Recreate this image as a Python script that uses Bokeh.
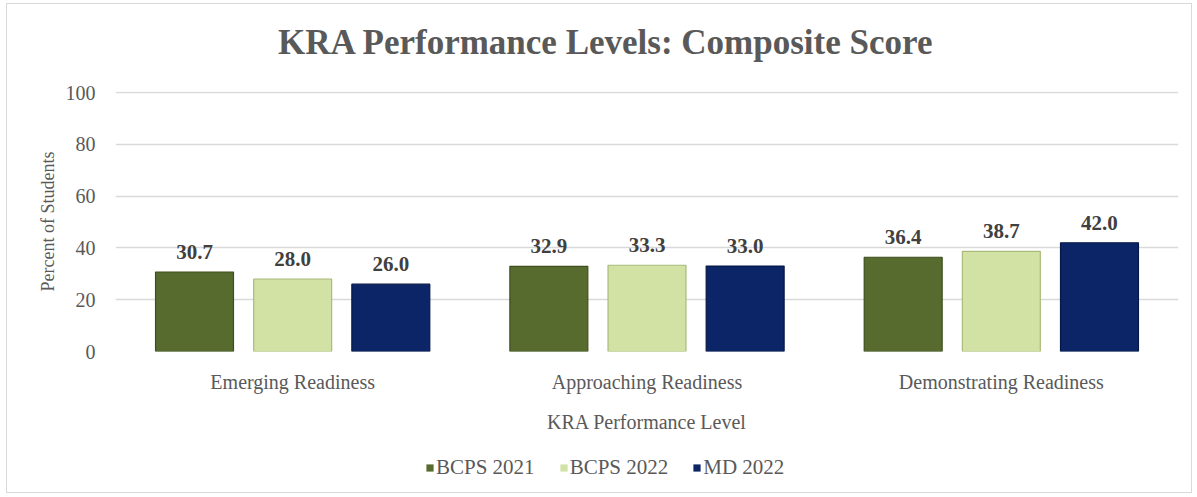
from bokeh.plotting import figure
from bokeh.layouts import column
from bokeh.models import (ColumnDataSource, FactorRange, Legend, LegendItem,
                          Range1d, FixedTicker)
from bokeh.transform import dodge
from bokeh.core.properties import value
from bokeh.embed import file_html
from bokeh.resources import INLINE

title_text = "KRA Performance Levels:  Composite Score"
categories = ["Emerging Readiness", "Approaching Readiness", "Demonstrating Readiness"]
series_names = ["BCPS 2021", "BCPS 2022", "MD 2022"]
bcps_2021 = [30.7, 32.9, 36.4]
bcps_2022 = [28.0, 33.3, 38.7]
md_2022 = [26.0, 33.0, 42.0]
y_ticks = [0, 20, 40, 60, 80, 100]

colors = ["#566b2d", "#d2e1a4", "#0b2566"]
edge_colors = ["#3e4e1f", "#a9ba7a", "#061845"]
offsets = [-0.277, 0.0, 0.277]
serif = "Liberation Serif"
gray = "#595959"

data = {"cat": categories}
keys = ["s0", "s1", "s2"]
for k, vals in zip(keys, [bcps_2021, bcps_2022, md_2022]):
    data[k] = vals
    data[k + "_lbl"] = [f"{v:.1f}" for v in vals]
source = ColumnDataSource(data)

W = 1184

# title strip
pt = figure(width=W, height=60, output_backend="svg", toolbar_location=None,
            x_range=Range1d(0, 1), y_range=Range1d(0, 60),
            x_axis_location=None, y_axis_location=None, min_border=0)
pt.outline_line_color = None
pt.xgrid.visible = False
pt.ygrid.visible = False
pt.border_fill_color = "white"
pt.text(x=[0.461], y=[12], text=[title_text], text_align="center",
        text_baseline="alphabetic", x_offset=5, y_offset=-10,
        text_font=value(serif), text_font_style="bold",
        text_font_size="35px", text_color=gray)

# main chart
p = figure(x_range=FactorRange(*categories, range_padding=0), y_range=Range1d(0, 100.4),
           width=W, height=387, output_backend="svg", toolbar_location=None)
p.min_border_left = 108
p.min_border_right = 13
p.min_border_top = 27
p.min_border_bottom = 100
p.outline_line_color = None
p.background_fill_color = "white"
p.border_fill_color = "white"

renderers = []
for k, c, ec, off in zip(keys, colors, edge_colors, offsets):
    r = p.vbar(x=dodge("cat", off, range=p.x_range), top=k, width=0.22, source=source,
               fill_color=c, line_color=ec, line_width=1.2)
    renderers.append(r)
    p.text(x=dodge("cat", off, range=p.x_range), y=k, text=k + "_lbl", source=source,
           text_align="center", text_baseline="alphabetic", y_offset=-20,
           text_font=value(serif), text_font_style="bold", text_font_size="21px",
           text_color="#404040")

# axes
p.yaxis.ticker = FixedTicker(ticks=y_ticks)
p.yaxis.axis_line_color = None
p.yaxis.major_tick_line_color = None
p.yaxis.minor_tick_line_color = None
p.yaxis.major_label_standoff = 14
p.yaxis.major_label_text_font = serif
p.yaxis.major_label_text_font_size = "20px"
p.yaxis.major_label_text_color = gray
p.yaxis.axis_label = "Percent of Students"
p.yaxis.axis_label_text_font = serif
p.yaxis.axis_label_text_font_size = "18px"
p.yaxis.axis_label_text_font_style = "normal"
p.yaxis.axis_label_text_color = gray
p.yaxis.axis_label_standoff = 5

p.xaxis.axis_line_color = None
p.xaxis.major_tick_line_color = None
p.xaxis.minor_tick_line_color = None
p.xaxis.major_label_standoff = 13
p.xaxis.major_label_text_font = serif
p.xaxis.major_label_text_font_size = "20px"
p.xaxis.major_label_text_color = gray
p.xaxis.axis_label = "KRA Performance Level"
p.xaxis.axis_label_text_font = serif
p.xaxis.axis_label_text_font_size = "20px"
p.xaxis.axis_label_text_font_style = "normal"
p.xaxis.axis_label_text_color = gray
p.xaxis.axis_label_standoff = 15

p.xgrid.grid_line_color = None
p.ygrid.grid_line_color = "#d9d9d9"
p.ygrid.grid_line_width = 1.5

# legend strip as its own small figure
pl = figure(width=W, height=41, output_backend="svg", toolbar_location=None,
            x_range=Range1d(0, 1), y_range=Range1d(0, 1),
            x_axis_location=None, y_axis_location=None, min_border=0)
pl.outline_line_color = None
pl.xgrid.visible = False
pl.ygrid.visible = False
pl.border_fill_color = "white"
leg_renderers = []
for c in colors:
    leg_renderers.append(pl.vbar(x=[0.5], top=[0], bottom=[0], width=0,
                                 fill_color=c, line_color=None))
legend = Legend(items=[LegendItem(label=n, renderers=[r]) for n, r in zip(series_names, leg_renderers)],
                orientation="horizontal", location=(310, 12),
                border_line_color=None, background_fill_alpha=0,
                glyph_width=9, glyph_height=9, label_standoff=2, spacing=24,
                label_text_font=serif, label_text_font_size="21px", label_text_color=gray,
                padding=2, margin=0)
pl.add_layout(legend, "center")

layout = column(pt, p, pl, spacing=0,
                styles={"border": "1px solid #d9d9d9", "margin-left": "6px", "margin-top": "3px"})
open("out.html", "w").write(file_html(layout, INLINE))
